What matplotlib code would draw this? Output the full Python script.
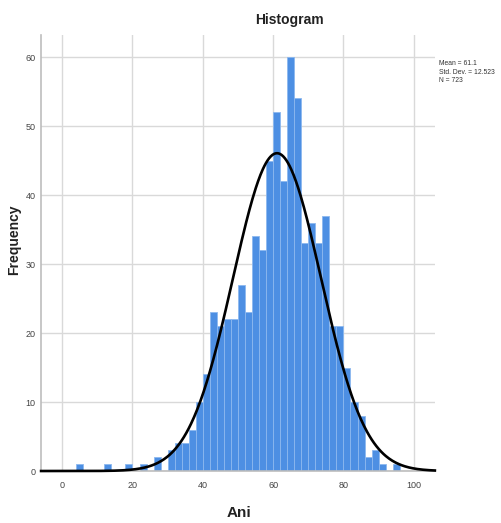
import numpy as np
import matplotlib.pyplot as plt

# histogram bins (left edge, width 2) and counts
bin_left = [4, 12, 18, 22, 26, 30, 32, 34, 36, 38, 40, 42, 44, 46, 48, 50, 52,
            54, 56, 58, 60, 62, 64, 66, 68, 70, 72, 74, 76, 78, 80, 82, 84, 86,
            88, 90, 94]
counts = [1, 1, 1, 1, 2, 3, 4, 4, 6, 10, 14, 23, 21, 22, 22, 27, 23,
          34, 32, 45, 52, 42, 60, 54, 33, 36, 33, 37, 21, 21, 15, 10, 8, 2,
          3, 1, 1]
bin_width = 2
mean, sd, n = 61.1, 12.523, 723

xticks = [0, 20, 40, 60, 80, 100]
yticks = [0, 10, 20, 30, 40, 50, 60]

font = ['Liberation Sans Narrow', 'Liberation Sans', 'DejaVu Sans']
plt.rcParams['font.family'] = font

fig = plt.figure(figsize=(5.01, 5.23), dpi=100)
ax = fig.add_axes([0.082, 0.0994, 0.786, 0.8337])

ax.bar(bin_left, counts, width=bin_width, align='edge', color='#4d8fe3',
       edgecolor='#8cb8ef', linewidth=0.6, zorder=2)

xs = np.linspace(-6, 106, 500)
ys = n * bin_width / (sd * np.sqrt(2 * np.pi)) * np.exp(-0.5 * ((xs - mean) / sd) ** 2)
ax.plot(xs, ys, color='black', lw=1.9, zorder=3, clip_on=False)

ax.set_xlim(-6, 106)
ax.set_ylim(0, 63.2)
ax.set_xticks(xticks)
ax.set_yticks(yticks)
ax.grid(color='#d9d9d9', lw=1)
ax.set_axisbelow(True)
for s in ['top', 'right']:
    ax.spines[s].set_visible(False)
for s in ['left', 'bottom']:
    ax.spines[s].set_color('#bdbdbd')
    ax.spines[s].set_linewidth(1.2)
ax.tick_params(axis='x', length=0, labelsize=6.5, labelcolor='#444444', pad=7)
ax.tick_params(axis='y', length=0, labelsize=6.5, labelcolor='#444444', pad=4)

fig.text(289 / 501, 1 - 20 / 523, 'Histogram', ha='center', va='center',
         fontsize=10, fontweight='bold', color='#222222')
fig.text(14 / 501, 1 - 240 / 523, 'Frequency', ha='center', va='center',
         rotation=90, fontsize=10, fontweight='bold', color='#222222')
fig.text(239 / 501, 1 - 513 / 523, 'Ani', ha='center', va='center',
         fontsize=11, fontweight='bold', color='#222222')
fig.text(439 / 501, 1 - 60 / 523,
         'Mean = {}\nStd. Dev. = {}\nN = {}'.format(mean, sd, n),
         ha='left', va='top', fontsize=4.9, linespacing=1.3, color='#333333')

fig.savefig('out.png', dpi=100)
